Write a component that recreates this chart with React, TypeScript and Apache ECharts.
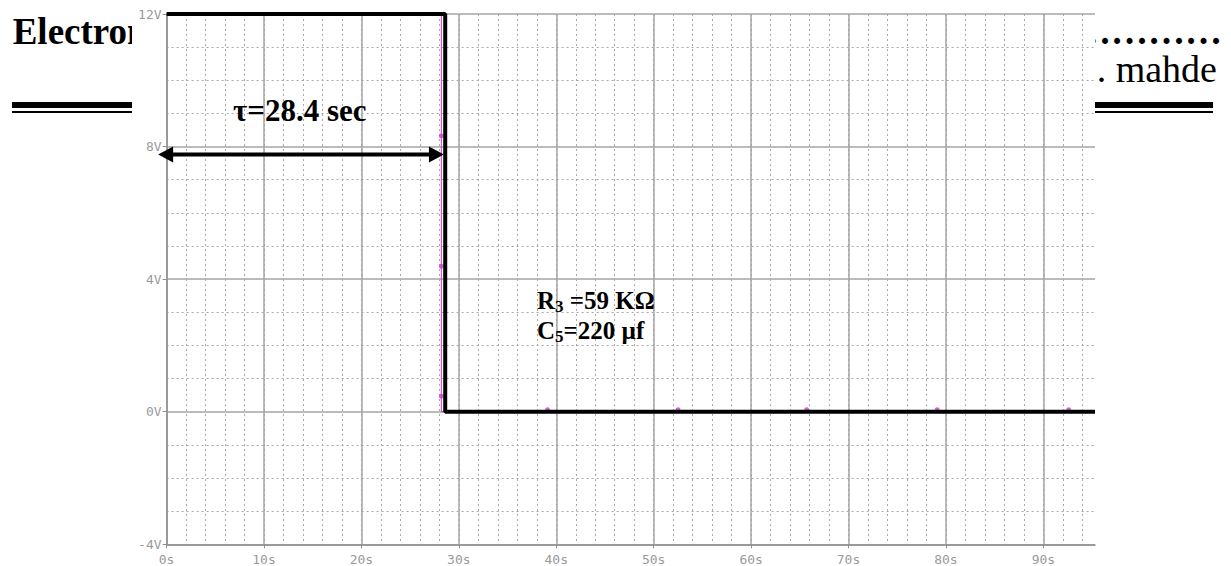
import React, { useEffect, useRef } from 'react';
import * as echarts from 'echarts';

// ---- axis ranges / ticks ----
const X_MIN = 0;
const X_MAX = 95.3;
const X_MAJOR = 10;
const X_MINOR = 2;
const Y_MIN = -4;
const Y_MAX = 12;
const Y_MAJOR = 4;
const Y_MINOR_SPLIT = 4;

// ---- thick black trace (drawn over the scope plot) ----
const blackTime = [0, 28.6, 28.6, 95.3];
const blackVolt = [12, 12, 0, 0];

// ---- original magenta PSpice trace and its markers ----
const magentaTime = [0, 28.2, 28.2, 95.3];
const magentaVolt = [12, 12, 0, 0];
const markerTime = [28.2, 28.2, 28.2, 39.1, 52.5, 65.7, 79.1, 92.6];
const markerVolt = [8.26, 4.33, 0.41, 0, 0, 0, 0, 0];

// ---- tau arrow ----
const tauArrowTime = [-0.1, 27.7];
const tauArrowVolt = 7.76;

const zip = (a: number[], b: number[]) => a.map((v, i) => [v, b[i]]);

const SERIF = '"Liberation Serif", "Times New Roman", serif';

function txt(text: string, x: number, y: number, font: string, align: string, z: number, extra: any = {}) {
  return {
    type: 'text',
    z,
    silent: true,
    style: {
      text,
      x,
      y,
      font,
      fill: '#000',
      textFill: '#000',
      textAlign: align,
      align,
      textVerticalAlign: 'middle',
      verticalAlign: 'middle',
      ...extra,
    },
  };
}

export default function App() {
  const ref = useRef<HTMLDivElement>(null);

  useEffect(() => {
    if (!ref.current) return;
    const chart = echarts.init(ref.current, null, { renderer: 'svg' });

    const axisColor = '#8f8f8f';
    const labelStyle = { color: '#9a9a9a', fontFamily: '"DejaVu Sans Mono", monospace', fontSize: 13 };

    const option: any = {
      animation: false,
      backgroundColor: '#fff',
      grid: {
        left: 166.6,
        top: 14,
        width: 928.4,
        height: 530.3,
        containLabel: false,
        outerBoundsMode: 'none',
      },
      xAxis: [
        {
          type: 'value',
          min: X_MIN,
          max: X_MAX,
          interval: X_MAJOR,
          position: 'bottom',
          z: 1,
          axisLine: { show: true, onZero: false, lineStyle: { color: axisColor, width: 1.5 } },
          axisTick: { show: true, length: 4, lineStyle: { color: axisColor, width: 1 } },
          axisLabel: { ...labelStyle, margin: 9, showMaxLabel: false, formatter: (v: number) => `${v}s` },
          splitLine: { show: true, showMaxLine: false, lineStyle: { color: '#a4a4a4', width: 1.5 } },
        },
        {
          type: 'value',
          min: X_MIN,
          max: X_MAX,
          interval: X_MINOR,
          position: 'bottom',
          z: 0,
          axisLine: { show: false, onZero: false },
          axisTick: { show: false },
          axisLabel: { show: false },
          splitLine: {
            show: true,
            showMaxLine: false,
            showMinLine: false,
            lineStyle: { color: '#a8a8a8', width: 1, type: [2, 3] },
          },
        },
      ],
      yAxis: {
        type: 'value',
        min: Y_MIN,
        max: Y_MAX,
        interval: Y_MAJOR,
        z: 1,
        axisLine: { show: true, onZero: false, lineStyle: { color: axisColor, width: 1.5 } },
        axisTick: { show: true, length: 4, lineStyle: { color: axisColor, width: 1 } },
        axisLabel: { ...labelStyle, margin: 5, formatter: (v: number) => `${v}V` },
        splitLine: { show: true, lineStyle: { color: '#a4a4a4', width: 1.5 } },
        minorTick: { show: false, splitNumber: Y_MINOR_SPLIT },
        minorSplitLine: { show: true, lineStyle: { color: '#a8a8a8', width: 1, type: [2, 3] } },
      },
      series: [
        {
          type: 'line',
          name: 'V(C5)',
          xAxisIndex: 0,
          data: zip(magentaTime, magentaVolt),
          showSymbol: false,
          lineStyle: { color: '#cc33cc', width: 1 },
          z: 2,
          clip: false,
        },
        {
          type: 'scatter',
          name: 'markers',
          xAxisIndex: 0,
          data: zip(markerTime, markerVolt),
          symbol: 'circle',
          symbolSize: 5,
          symbolOffset: [0, -2],
          itemStyle: { color: '#c53fc5' },
          z: 2,
          clip: false,
        },
        {
          type: 'line',
          name: 'trace',
          xAxisIndex: 0,
          data: zip(blackTime, blackVolt),
          showSymbol: false,
          lineStyle: { color: '#000', width: 4 },
          z: 3,
          clip: false,
        },
        {
          type: 'line',
          name: 'tau',
          xAxisIndex: 0,
          data: [
            { value: [tauArrowTime[0], tauArrowVolt], symbolRotate: 90 },
            { value: [tauArrowTime[1], tauArrowVolt], symbolRotate: -90 },
          ],
          showSymbol: true,
          showAllSymbol: true,
          symbol: 'triangle',
          symbolSize: [16, 15],
          itemStyle: { color: '#000', borderWidth: 0 },
          lineStyle: { color: '#000', width: 4 },
          z: 4,
          clip: false,
          silent: true,
        },
      ],
      graphic: [
        // document header behind the pasted plot
        txt('Electronics', 12.7, 31, `bold 37px ${SERIF}`, 'left', -3),
        txt('………………………………', 1222, 31, `bold 37px ${SERIF}`, 'right', -3),
        txt('S. mahde', 1217, 69, `38px ${SERIF}`, 'right', -3),
        { type: 'rect', z: -3, silent: true, shape: { x: 12, y: 102, width: 1201, height: 6 }, style: { fill: '#000' } },
        { type: 'rect', z: -3, silent: true, shape: { x: 12, y: 111, width: 1201, height: 2 }, style: { fill: '#000' } },
        // pasted plot picture (white)
        { type: 'rect', z: -1, silent: true, shape: { x: 132, y: 0, width: 963, height: 566 }, style: { fill: '#fff' } },
        // annotations
        txt('τ=28.4 sec', 233, 110, `bold 31px ${SERIF}`, 'left', 20),
        txt('{m|R}{s|3}{m| =59 KΩ}\n{m|C}{s|5}{m|=220 µf}', 537, 315, `bold 25px ${SERIF}`, 'left', 20, {
          rich: {
            m: { fontFamily: SERIF, fontWeight: 'bold', fontSize: 25, lineHeight: 30, fill: '#000', textFill: '#000' },
            s: {
              fontFamily: SERIF,
              fontWeight: 'bold',
              fontSize: 17,
              lineHeight: 16,
              verticalAlign: 'bottom',
              textVerticalAlign: 'bottom',
              fill: '#000',
              textFill: '#000',
            },
          },
        }),
      ],
    };

    chart.setOption(option);
    return () => chart.dispose();
  }, []);

  return <div ref={ref} style={{ position: 'absolute', left: 0, top: 0, width: 1231, height: 566 }} />;
}
